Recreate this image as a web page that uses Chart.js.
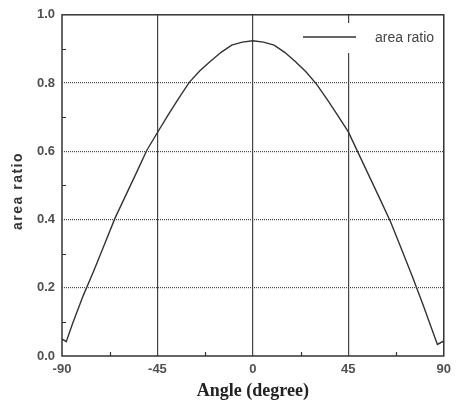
<!DOCTYPE html>
<html>
<head>
<meta charset="utf-8">
<script src="https://cdn.jsdelivr.net/npm/chart.js@4"></script>
<style>
  html, body { margin: 0; padding: 0; background: #fff; }
  #wrap { width: 457px; height: 402px; }
</style>
</head>
<body>
<div id="wrap"><canvas id="c" width="457" height="402"></canvas></div>
<script>
// Incidence angle (degrees) and the measured area ratio at each angle
const angles = [-90, -88, -85, -80, -75, -70, -65, -60, -55, -50, -45, -40, -35, -30, -25, -20, -15, -10, -5, 0,
                5, 10, 15, 20, 25, 30, 35, 40, 45, 50, 55, 60, 65, 70, 75, 80, 85, 87, 90];
const areaRatio = [0.050, 0.042, 0.095, 0.177, 0.250, 0.327, 0.404, 0.470, 0.536, 0.603, 0.655, 0.706, 0.755, 0.802, 0.836, 0.864, 0.890, 0.911, 0.920, 0.924,
                   0.920, 0.911, 0.890, 0.863, 0.833, 0.797, 0.752, 0.705, 0.657, 0.591, 0.525, 0.459, 0.392, 0.314, 0.236, 0.154, 0.068, 0.034, 0.044];

const xTicks = [-90, -45, 0, 45, 90];
const yTicks = [0.0, 0.2, 0.4, 0.6, 0.8, 1.0];
const xMinorTicks = [-67.5, -22.5, 22.5, 67.5];
const yMinorTicks = [0.1, 0.3, 0.5, 0.7, 0.9];

const seriesLabel = 'area ratio';
const xTitle = 'Angle (degree)';
const yTitle = 'area ratio';

const INK = '#333';
const TICK_INK = '#505050';

// Frame, inner minor ticks, legend box and rotated y title
const decorations = {
  id: 'decorations',
  beforeDatasetsDraw(chart) {
    const { ctx } = chart;
    ctx.save();
    // legend box (white background hides the grid behind it)
    ctx.fillStyle = '#fff';
    ctx.fillRect(296, 23, 148, 30);
    ctx.strokeStyle = INK;
    ctx.lineWidth = 1.4;
    ctx.beginPath();
    ctx.moveTo(303, 37);
    ctx.lineTo(356, 37);
    ctx.stroke();
    ctx.fillStyle = '#444';
    ctx.font = '14px "Liberation Sans", Arial, sans-serif';
    ctx.textBaseline = 'middle';
    ctx.textAlign = 'left';
    ctx.fillText(seriesLabel, 375, 38);
    ctx.restore();
  },
  afterDraw(chart) {
    const { ctx, chartArea: a, scales: { x, y } } = chart;
    ctx.save();
    ctx.strokeStyle = INK;
    ctx.lineWidth = 1.5;
    ctx.strokeRect(a.left, a.top, a.right - a.left, a.bottom - a.top);
    ctx.lineWidth = 1.2;
    ctx.beginPath();
    yMinorTicks.forEach(v => {
      const py = Math.round(y.getPixelForValue(v)) + 0.5;
      ctx.moveTo(a.left, py); ctx.lineTo(a.left + 4, py);
    });
    xMinorTicks.forEach(v => {
      const px = Math.round(x.getPixelForValue(v)) + 0.5;
      ctx.moveTo(px, a.bottom); ctx.lineTo(px, a.bottom - 4);
    });
    ctx.stroke();
    // y-axis title
    ctx.translate(18, 191);
    ctx.rotate(-Math.PI / 2);
    ctx.fillStyle = INK;
    ctx.font = 'bold 14px "Liberation Sans", Arial, sans-serif';
    if ('letterSpacing' in ctx) ctx.letterSpacing = '1.5px';
    ctx.textAlign = 'center';
    ctx.textBaseline = 'middle';
    ctx.fillText(yTitle, 0, 0);
    ctx.restore();
  }
};

new Chart(document.getElementById('c'), {
  type: 'line',
  data: {
    datasets: [{
      label: seriesLabel,
      data: angles.map((a, i) => ({ x: a, y: areaRatio[i] })),
      borderColor: INK,
      borderWidth: 1.4,
      pointRadius: 0,
      tension: 0,
      fill: false
    }]
  },
  options: {
    responsive: false,
    animation: false,
    devicePixelRatio: 1,
    layout: { padding: { left: 0, top: 13, right: 8, bottom: 0 } },
    plugins: { legend: { display: false }, tooltip: { enabled: false } },
    scales: {
      x: {
        type: 'linear',
        min: -90, max: 90,
        afterBuildTicks: s => { s.ticks = xTicks.map(v => ({ value: v })); },
        afterFit: s => { s.height = 46; },
        ticks: {
          padding: 6,
          color: TICK_INK,
          font: { family: '"Liberation Sans", Arial, sans-serif', size: 13, weight: 'bold' },
          maxRotation: 0,
          callback: v => String(v)
        },
        grid: {
          drawTicks: false,
          color: c => (c.tick && (c.tick.value === -90 || c.tick.value === 90)) ? 'rgba(0,0,0,0)' : '#444',
          lineWidth: 1.2
        },
        border: { display: false },
        title: {
          display: true,
          text: xTitle,
          color: '#222',
          font: { family: '"Liberation Serif", "Times New Roman", serif', size: 18, weight: 'bold' },
          padding: { top: 0, bottom: 0 }
        }
      },
      y: {
        type: 'linear',
        min: 0, max: 1,
        afterBuildTicks: s => { s.ticks = yTicks.map(v => ({ value: v })); },
        afterFit: s => { s.width = 62; },
        ticks: {
          padding: 7,
          color: TICK_INK,
          font: { family: '"Liberation Sans", Arial, sans-serif', size: 13, weight: 'bold' },
          callback: v => Number(v).toFixed(1)
        },
        grid: {
          drawTicks: false,
          color: c => (c.tick && (c.tick.value === 0 || c.tick.value === 1)) ? 'rgba(0,0,0,0)' : '#444',
          lineWidth: 1.2
        },
        border: { display: false, dash: [1, 1] },
        title: { display: false }
      }
    }
  },
  plugins: [decorations]
});
</script>
</body>
</html>
